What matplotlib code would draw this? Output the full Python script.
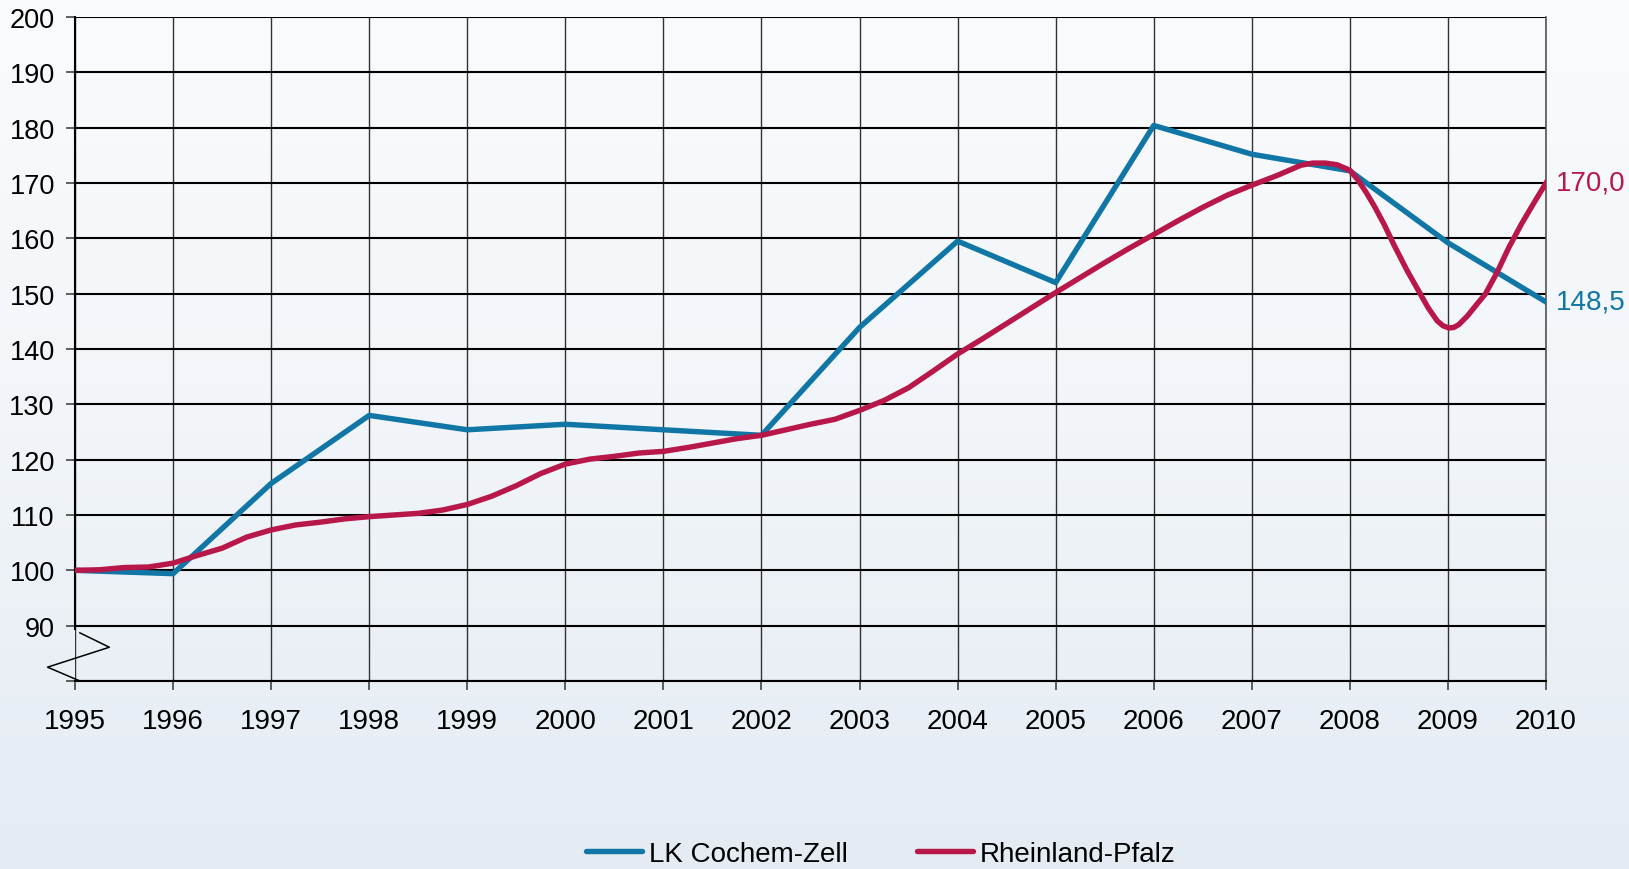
import matplotlib

matplotlib.use("Agg")
import matplotlib.pyplot as plt
import numpy as np
from matplotlib.colors import LinearSegmentedColormap
from matplotlib.lines import Line2D

# yearly index values (1995 = 100)
years = list(range(1995, 2011))
cochem_zell = [100.0, 99.4, 115.7, 128.0, 125.4, 126.4, 125.4, 124.4,
               143.9, 159.5, 152.0, 180.4, 175.2, 172.2, 159.2, 148.5]

# Rheinland-Pfalz, read off roughly quarterly (denser around the 2008/09 dip)
rp_dates = [
    1995.00, 1995.25, 1995.50, 1995.75,
    1996.00, 1996.25, 1996.50, 1996.75,
    1997.00, 1997.25, 1997.50, 1997.75,
    1998.00, 1998.25, 1998.50, 1998.75,
    1999.00, 1999.25, 1999.50, 1999.75,
    2000.00, 2000.25, 2000.50, 2000.75,
    2001.00, 2001.25, 2001.50, 2001.75,
    2002.00, 2002.25, 2002.50, 2002.75,
    2003.00, 2003.25, 2003.50, 2003.75,
    2004.00, 2004.25, 2004.50, 2004.75,
    2005.00, 2005.25, 2005.50, 2005.75,
    2006.00, 2006.25, 2006.50, 2006.75,
    2007.00, 2007.25, 2007.50, 2007.62, 2007.75, 2007.87,
    2008.00, 2008.08, 2008.17, 2008.25, 2008.35, 2008.45, 2008.58,
    2008.72, 2008.80, 2008.89, 2008.95, 2009.01, 2009.06, 2009.11,
    2009.20, 2009.30, 2009.38, 2009.50, 2009.62, 2009.75, 2009.88,
    2010.00,
]
rp_values = [
    100.0, 100.1, 100.5, 100.6,
    101.3, 102.7, 104.0, 106.0,
    107.3, 108.2, 108.7, 109.3,
    109.7, 110.0, 110.3, 110.9,
    111.9, 113.4, 115.3, 117.5,
    119.2, 120.1, 120.6, 121.2,
    121.5, 122.2, 123.0, 123.8,
    124.4, 125.4, 126.4, 127.3,
    128.9, 130.7, 133.0, 136.0,
    139.1, 141.8, 144.6, 147.4,
    150.2, 152.9, 155.6, 158.2,
    160.7, 163.2, 165.6, 167.8,
    169.6, 171.3, 173.2, 173.6, 173.6, 173.3,
    172.3, 170.6, 168.2, 165.8, 162.5, 158.8, 154.3,
    149.9, 147.4, 145.1, 144.2, 143.8, 143.9, 144.4,
    146.0, 148.2, 149.9, 153.8, 158.3, 162.6, 166.5,
    170.0,
]

y_ticks = list(range(90, 201, 10))
series_names = ["LK Cochem-Zell", "Rheinland-Pfalz"]

BLUE = "#1076a6"
RED = "#b8174a"

plt.rcParams["font.family"] = ["Liberation Sans", "DejaVu Sans"]

fig = plt.figure(figsize=(16.29, 8.7), dpi=100)

# soft vertical background gradient
bg = fig.add_axes([0, 0, 1, 1], zorder=-10)
cmap = LinearSegmentedColormap.from_list("bg", ["#fafbfd", "#f1f5f9", "#e4ebf3"])
bg.imshow(np.linspace(0, 1, 256).reshape(-1, 1), aspect="auto", cmap=cmap,
          extent=[0, 1, 0, 1])
bg.axis("off")

ax = fig.add_axes([75 / 1629, 1 - 682 / 870, (1546 - 75) / 1629, (682 - 18) / 870])
ax.set_facecolor("none")

ax.plot(years, cochem_zell, color=BLUE, lw=3.9, zorder=4, solid_joinstyle="round")
ax.plot(rp_dates, rp_values, color=RED, lw=3.9, zorder=5, solid_joinstyle="round")

ax.set_xlim(1995, 2010)
ax.set_ylim(80, 200)
ax.set_xticks(years)
ax.set_xticklabels([str(y) for y in years])
ax.set_yticks([80] + y_ticks)
ax.set_yticklabels([""] + [str(v) for v in y_ticks])
ax.tick_params(axis="both", length=6.5, width=1.2, color="#444444")
ax.tick_params(axis="y", labelsize=19.5, pad=8)
ax.tick_params(axis="x", labelsize=20, pad=13)

ax.grid(axis="y", color="black", lw=1.5, zorder=1)
ax.grid(axis="x", color="#333333", lw=1.0, zorder=1)
ax.set_axisbelow(True)

ax.spines["top"].set_visible(False)
ax.spines["right"].set_color("#555555")
ax.spines["right"].set_linewidth(1.2)
ax.spines["bottom"].set_color("black")
ax.spines["bottom"].set_linewidth(1.5)
ax.spines["left"].set_color("black")
ax.spines["left"].set_linewidth(1.5)
ax.spines["left"].set_bounds(89.4, 200)

# axis break mark
ax.plot([1995.05, 1995.35, 1994.72, 1995.05], [88.7, 86.1, 82.5, 80.0],
        color="black", lw=1.1, clip_on=False, zorder=6)

# end labels
for vals, col in [(cochem_zell, BLUE), (rp_values, RED)]:
    ax.annotate(f"{vals[-1]:.1f}".replace(".", ","), xy=(2010, vals[-1]),
                xytext=(7, 0), textcoords="offset points", va="center",
                ha="left", fontsize=20, color=col, annotation_clip=False)

handles = [Line2D([], [], color=BLUE, lw=3.9, solid_capstyle="round"),
           Line2D([], [], color=RED, lw=3.9, solid_capstyle="round")]
fig.legend(handles, series_names, loc="center", bbox_to_anchor=(881 / 1629, 1 - 855 / 870),
           ncol=2, frameon=False, fontsize=20, handlelength=2.0, handletextpad=0.25,
           columnspacing=2.5)

fig.savefig("out.png", dpi=100)
